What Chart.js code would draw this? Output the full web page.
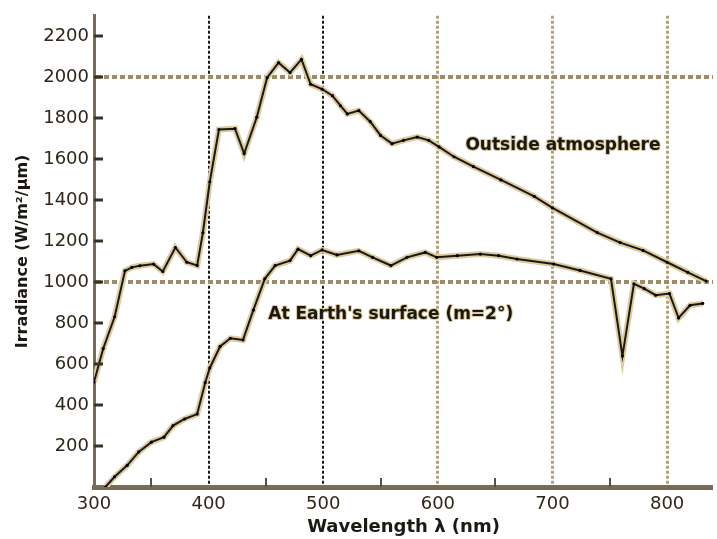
<!DOCTYPE html>
<html>
<head>
<meta charset="utf-8">
<title>Solar irradiance spectrum</title>
<script src="https://cdn.jsdelivr.net/npm/chart.js@4.4.1/dist/chart.umd.min.js"></script>
<style>
    html, body { margin: 0; padding: 0; background: #fff; }
    #wrap { width: 717px; height: 539px; }
</style>
</head>
<body>
<div id="wrap"><canvas id="spectrumChart" width="717" height="539"></canvas></div>
<script>
// Outside the atmosphere: wavelength (nm) and irradiance (W/m²/µm)
const outsideWl  = [300, 308, 318, 327, 333, 340, 352, 360, 371, 381, 390, 395, 401, 409, 423, 431, 442, 451, 461, 471, 481, 489, 499, 508, 515, 521, 531, 541, 550, 560, 570, 582, 592, 601, 614, 631, 655, 684, 700, 739, 759, 779, 800, 818, 834];
const outsideIrr = [512, 675, 831, 1055, 1072, 1080, 1088, 1052, 1169, 1097, 1081, 1241, 1490, 1745, 1749, 1628, 1805, 1998, 2071, 2023, 2087, 1966, 1942, 1910, 1861, 1821, 1837, 1783, 1716, 1676, 1692, 1708, 1692, 1660, 1612, 1564, 1499, 1419, 1362, 1242, 1193, 1155, 1097, 1048, 1005];

// At Earth's surface (m=2)
const surfaceWl  = [310, 318, 329, 339, 350, 361, 369, 379, 390, 397, 401, 410, 419, 430, 439, 449, 458, 471, 478, 489, 499, 512, 531, 543, 559, 573, 589, 599, 617, 637, 653, 669, 701, 724, 751, 761, 771, 780, 790, 802, 810, 820, 831];
const surfaceIrr = [0, 50, 106, 171, 219, 243, 300, 332, 356, 509, 581, 686, 726, 718, 863, 1016, 1081, 1105, 1161, 1129, 1157, 1133, 1153, 1121, 1081, 1121, 1145, 1121, 1129, 1137, 1129, 1113, 1088, 1057, 1016, 640, 992, 968, 936, 944, 825, 887, 896];

// Axis ticks
const xTickStep = 100;
const yTickStep = 200;
const minorWlTicks = [350, 450, 550, 650, 750];
const darkGridWl = [400, 500];
const tanGridWl = [600, 700, 800];
const gridIrr = [1000, 2000];

const toPoints = (xs, ys) => xs.map((x, i) => ({x: x, y: ys[i]}));

const ink = '#1c1912';
const halo = '#ddcca2';
const axisBrown = '#786c56';
const labelFont = {family: 'DejaVu Sans', size: 18};

// tick marks inside the axes and the curve captions
const decorations = {
    id: 'decorations',
    afterDatasetsDraw(chart) {
        const {ctx, scales: {x, y}} = chart;
        ctx.save();
        ctx.fillStyle = '#3a3226';
        y.ticks.forEach(t => {
            if (t.value > 0) {
                const py = y.getPixelForValue(t.value);
                ctx.fillRect(x.left, Math.round(py) - 1.5, 9, 3);
            }
        });
        ctx.fillStyle = '#5a4e3c';
        minorWlTicks.forEach(v => {
            const px = x.getPixelForValue(v);
            ctx.fillRect(Math.round(px) - 1, y.bottom - 9, 2, 9);
        });

        const captions = chart.options.plugins.decorations.captions;
        ctx.font = 'bold 17px "DejaVu Sans"';
        ctx.textAlign = 'left';
        ctx.textBaseline = 'middle';
        ctx.lineJoin = 'round';
        captions.forEach(c => {
            const px = x.getPixelForValue(c.wl);
            const py = y.getPixelForValue(c.irr);
            ctx.strokeStyle = halo;
            ctx.lineWidth = 2;
            ctx.strokeText(c.text, px, py);
            ctx.fillStyle = ink;
            ctx.fillText(c.text, px, py);
        });
        ctx.restore();
    }
};

document.addEventListener('DOMContentLoaded', function() {
    const ctx = document.getElementById('spectrumChart').getContext('2d');
    new Chart(ctx, {
        type: 'line',
        data: {
            datasets: [{
                label: 'Outside atmosphere',
                data: toPoints(outsideWl, outsideIrr),
                borderColor: ink,
                borderWidth: 2,
                pointRadius: 1.6,
                pointBackgroundColor: '#000',
                pointBorderWidth: 0,
                tension: 0,
                order: 1
            }, {
                label: "At Earth's surface",
                data: toPoints(surfaceWl, surfaceIrr),
                borderColor: ink,
                borderWidth: 2,
                pointRadius: 1.6,
                pointBackgroundColor: '#000',
                pointBorderWidth: 0,
                tension: 0,
                order: 1
            }, {
                label: 'halo outside',
                data: toPoints(outsideWl, outsideIrr),
                borderColor: halo,
                borderWidth: 6,
                pointRadius: 0,
                tension: 0,
                order: 2
            }, {
                label: 'halo surface',
                data: toPoints(surfaceWl, surfaceIrr),
                borderColor: halo,
                borderWidth: 6,
                pointRadius: 0,
                tension: 0,
                order: 2
            }]
        },
        options: {
            responsive: false,
            animation: false,
            devicePixelRatio: 1,
            layout: {
                padding: {top: 11, right: 0, bottom: 0, left: 0}
            },
            plugins: {
                legend: {display: false},
                tooltip: {enabled: false},
                decorations: {
                    captions: [
                        {text: 'Outside atmosphere', wl: 624, irr: 1665},
                        {text: "At Earth's surface (m=2°)", wl: 452, irr: 840}
                    ]
                }
            },
            scales: {
                x: {
                    type: 'linear',
                    min: 300,
                    max: 840,
                    afterFit: function(scale) { scale.height = 52; },
                    ticks: {
                        stepSize: xTickStep,
                        includeBounds: false,
                        color: '#2e2719',
                        font: labelFont,
                        padding: 7,
                        maxRotation: 0
                    },
                    grid: {
                        drawTicks: false,
                        color: function(c) {
                            const v = c.tick && c.tick.value;
                            if (darkGridWl.includes(v)) return '#1e1b14';
                            if (tanGridWl.includes(v)) return '#b3a27c';
                            return 'rgba(0,0,0,0)';
                        },
                        lineWidth: function(c) {
                            const v = c.tick && c.tick.value;
                            if (darkGridWl.includes(v)) return 2;
                            if (tanGridWl.includes(v)) return 3;
                            return 0;
                        }
                    },
                    border: {
                        color: axisBrown,
                        width: 5,
                        dash: [3, 2]
                    },
                    title: {
                        display: true,
                        text: 'Wavelength λ (nm)',
                        color: ink,
                        font: {family: 'DejaVu Sans', size: 18, weight: 'bold'},
                        padding: {top: 0, bottom: 1}
                    }
                },
                y: {
                    type: 'linear',
                    min: 0,
                    max: 2300,
                    afterFit: function(scale) { scale.width = 94; },
                    ticks: {
                        stepSize: yTickStep,
                        includeBounds: false,
                        color: '#2e2719',
                        font: labelFont,
                        padding: 5,
                        callback: function(value) {
                            return value === 0 ? '' : value;
                        }
                    },
                    grid: {
                        drawTicks: false,
                        color: function(c) {
                            const v = c.tick && c.tick.value;
                            return gridIrr.includes(v) ? '#9c8c6c' : 'rgba(0,0,0,0)';
                        },
                        lineWidth: function(c) {
                            const v = c.tick && c.tick.value;
                            return gridIrr.includes(v) ? 4 : 0;
                        }
                    },
                    border: {
                        color: axisBrown,
                        width: 3,
                        dash: [5, 3]
                    },
                    title: {
                        display: true,
                        text: 'Irradiance (W/m²/µm)',
                        color: ink,
                        font: {family: 'DejaVu Sans', size: 16, weight: 'bold'},
                        padding: {top: 13, bottom: 0}
                    }
                }
            }
        },
        plugins: [decorations]
    });
});
</script>
</body>
</html>
